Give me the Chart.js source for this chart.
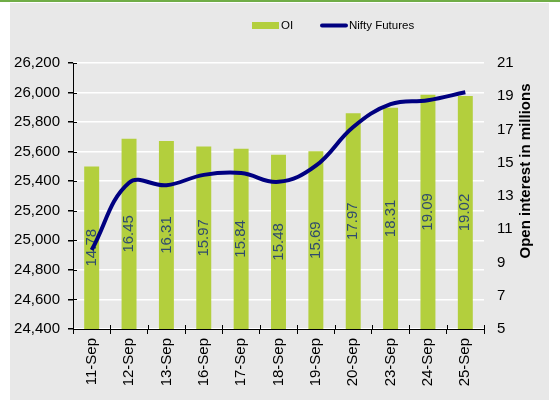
<!DOCTYPE html>
<html>
<head>
<meta charset="utf-8">
<script src="https://cdn.jsdelivr.net/npm/chart.js@4.4.1/dist/chart.umd.min.js"></script>
<style>
  html, body { margin: 0; padding: 0; background: #fff; }
  #wrap { position: relative; width: 560px; height: 407px; }
  #topline { position: absolute; left: 0; top: 0; width: 560px; height: 2px; background: #70ad47; }
  #panel { position: absolute; left: 10px; top: 3px; width: 539px; height: 397px; background: #e8e8e8; }
  #chart { position: absolute; left: 0; top: 0; }
</style>
</head>
<body>
<div id="wrap">
  <div id="topline"></div>
  <div id="panel"></div>
  <canvas id="chart" width="560" height="407"></canvas>
</div>
<script>
// dates on the x axis
const dates = ['11-Sep', '12-Sep', '13-Sep', '16-Sep', '17-Sep', '18-Sep', '19-Sep', '20-Sep', '23-Sep', '24-Sep', '25-Sep'];
// open interest, millions (right axis)
const openInterest = [14.78, 16.45, 16.31, 15.97, 15.84, 15.48, 15.69, 17.97, 18.31, 19.09, 19.02];
// Nifty futures price (left axis)
const niftyFutures = [24935, 25390, 25373, 25443, 25455, 25396, 25505, 25767, 25921, 25948, 26002];

const FONT = "'Liberation Sans', Arial, sans-serif";
const GREEN = '#b3cf3d';
const NAVY = '#000080';

// value labels inside the bars, drawn before the line
const barLabels = {
  id: 'barLabels',
  afterDatasetDraw(chart, args) {
    if (args.index !== 0) return;
    const ctx = chart.ctx;
    const bottom = chart.chartArea.bottom;
    ctx.save();
    ctx.font = '15px ' + FONT;
    ctx.fillStyle = '#2f4b6e';
    ctx.textAlign = 'center';
    ctx.textBaseline = 'middle';
    args.meta.data.forEach((bar, i) => {
      ctx.save();
      ctx.translate(bar.x, (bar.y + Math.min(bar.base, bottom)) / 2);
      ctx.rotate(-Math.PI / 2);
      ctx.fillText(openInterest[i].toFixed(2), 0, 0);
      ctx.restore();
    });
    ctx.restore();
  }
};

// tick marks crossing the axis lines, legend and right axis title
const extras = {
  id: 'extras',
  afterDraw(chart) {
    const ctx = chart.ctx;
    const area = chart.chartArea;
    ctx.save();
    ctx.strokeStyle = '#000';
    ctx.lineWidth = 1;
    ctx.beginPath();
    const n = dates.length;
    for (let i = 0; i <= n; i++) {
      const x = Math.round(area.left + (area.right - area.left) * i / n) + 0.5;
      ctx.moveTo(x, area.bottom);
      ctx.lineTo(x, area.bottom - 4);
    }
    chart.scales.y.ticks.forEach(t => {
      const y = Math.round(chart.scales.y.getPixelForValue(t.value)) + 0.5;
      ctx.moveTo(area.left, y);
      ctx.lineTo(area.left + 4, y);
    });
    ctx.stroke();

    ctx.fillStyle = GREEN;
    ctx.fillRect(252, 22, 27, 7);
    ctx.font = '11.5px ' + FONT;
    ctx.fillStyle = '#000';
    ctx.textBaseline = 'middle';
    ctx.textAlign = 'left';
    ctx.fillText('OI', 281, 25.5);
    ctx.strokeStyle = NAVY;
    ctx.lineWidth = 4;
    ctx.lineCap = 'round';
    ctx.beginPath();
    ctx.moveTo(322, 25.5);
    ctx.lineTo(346, 25.5);
    ctx.stroke();
    ctx.fillText('Nifty Futures', 349, 25.5);

    ctx.translate(526, 171);
    ctx.rotate(-Math.PI / 2);
    ctx.font = 'bold 15px ' + FONT;
    ctx.textAlign = 'center';
    ctx.fillText('Open interest in millions', 0, 0);
    ctx.restore();
  }
};

new Chart(document.getElementById('chart'), {
  data: {
    labels: dates,
    datasets: [
      {
        type: 'bar',
        label: 'OI',
        data: openInterest,
        yAxisID: 'yOI',
        backgroundColor: GREEN,
        barPercentage: 0.4,
        categoryPercentage: 1,
        order: 1,
      },
      {
        type: 'line',
        label: 'Nifty Futures',
        data: niftyFutures,
        yAxisID: 'y',
        borderColor: NAVY,
        borderWidth: 4,
        pointRadius: 0,
        tension: 0.4,
        order: 0,
      },
    ],
  },
  options: {
    responsive: false,
    animation: false,
    devicePixelRatio: 1,
    layout: { padding: { top: 63, left: 0, right: 0, bottom: 0 } },
    plugins: { legend: { display: false }, tooltip: { enabled: false } },
    scales: {
      x: {
        grid: { display: true, drawOnChartArea: false, color: '#000', tickLength: 5 },
        border: { color: '#000' },
        ticks: { color: '#000', font: { family: FONT, size: 15 }, minRotation: 90, maxRotation: 90, padding: 4 },
        afterFit: s => { s.height = 78; },
      },
      y: {
        position: 'left',
        min: 24400,
        max: 26200,
        ticks: { stepSize: 200, color: '#000', font: { family: FONT, size: 15 }, padding: 8 },
        grid: { color: '#ffffff', lineWidth: 1.5, tickColor: '#000', tickLength: 5 },
        border: { color: '#000' },
        afterFit: s => { s.width = 73; },
      },
      yOI: {
        position: 'right',
        min: 5,
        max: 21,
        ticks: { stepSize: 2, color: '#000', font: { family: FONT, size: 15 }, padding: 13 },
        grid: { display: false, drawTicks: false },
        border: { display: false },
        afterFit: s => { s.width = 76; },
      },
    },
  },
  plugins: [barLabels, extras],
});
</script>
</body>
</html>
